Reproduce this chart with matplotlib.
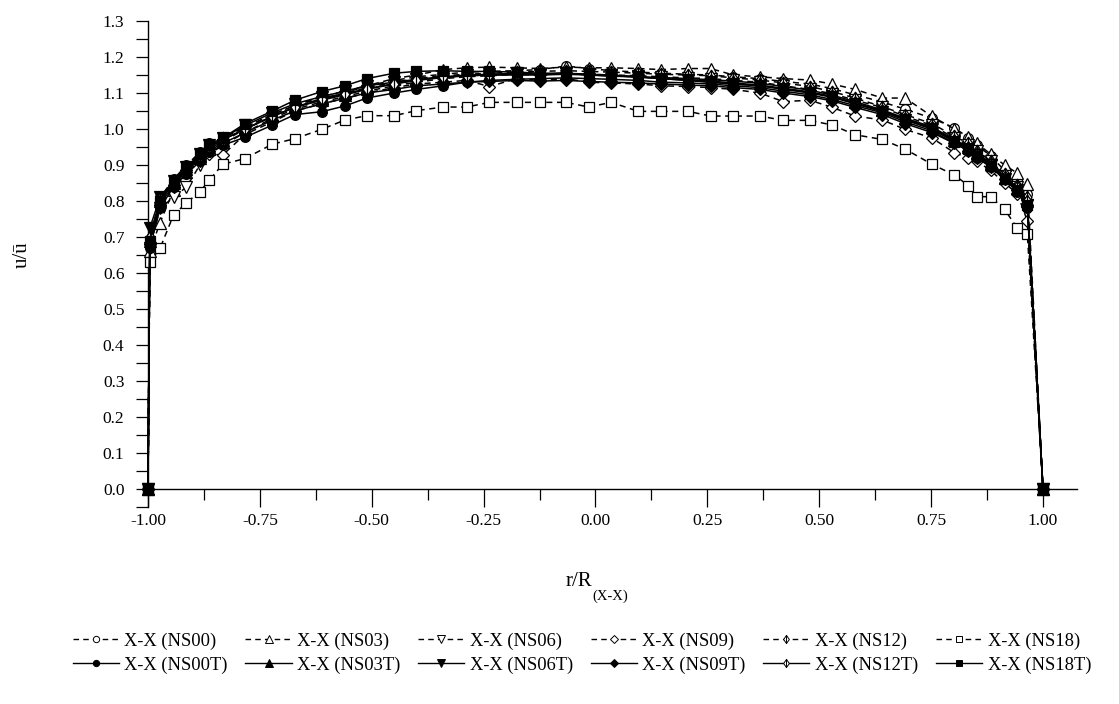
import numpy as np
import matplotlib
matplotlib.use("Agg")
import matplotlib.pyplot as plt
from matplotlib.path import Path
from matplotlib.lines import Line2D

plt.rcParams['font.family'] = ['Liberation Serif', 'DejaVu Serif']

# radial positions r/R (same stations for every run)
r = [-1.000, -0.996, -0.973, -0.943, -0.914, -0.884, -0.863, -0.833, -0.783, -0.722,
     -0.672, -0.612, -0.560, -0.511, -0.450, -0.400, -0.340, -0.288, -0.237, -0.176,
     -0.125, -0.066, -0.015, 0.035, 0.096, 0.147, 0.207, 0.257, 0.308, 0.367,
     0.420, 0.479, 0.529, 0.580, 0.641, 0.692, 0.752, 0.802, 0.833, 0.853,
     0.883, 0.914, 0.943, 0.965, 1.000]

ns00 = [0, 0.69, 0.81, 0.86, 0.90, 0.935, 0.96, 0.975, 1.005, 1.04, 1.065, 1.09, 1.105, 1.12, 1.135,
        1.145, 1.152, 1.158, 1.16, 1.162, 1.165, 1.175, 1.168, 1.162, 1.158, 1.155, 1.152, 1.15,
        1.145, 1.14, 1.132, 1.125, 1.112, 1.095, 1.075, 1.055, 1.03, 1.003, 0.975, 0.955, 0.925,
        0.885, 0.858, 0.82, 0]
ns03 = [0, 0.66, 0.74, 0.83, 0.88, 0.92, 0.945, 0.965, 1.0, 1.035, 1.06, 1.085, 1.10, 1.12, 1.14,
        1.15, 1.165, 1.17, 1.172, 1.17, 1.168, 1.172, 1.17, 1.17, 1.168, 1.165, 1.168, 1.168,
        1.15, 1.145, 1.14, 1.136, 1.125, 1.11, 1.086, 1.086, 1.035, 1.0, 0.979, 0.96, 0.93,
        0.90, 0.877, 0.847, 0]
ns06 = [0, 0.67, 0.78, 0.81, 0.839, 0.90, 0.93, 0.955, 0.99, 1.03, 1.055, 1.075, 1.09, 1.105, 1.12,
        1.13, 1.14, 1.145, 1.148, 1.152, 1.15, 1.155, 1.152, 1.15, 1.148, 1.145, 1.142, 1.14,
        1.135, 1.13, 1.12, 1.11, 1.098, 1.08, 1.06, 1.035, 1.01, 0.975, 0.955, 0.938, 0.91,
        0.87, 0.84, 0.79, 0]
ns09 = [0, 0.68, 0.79, 0.84, 0.88, 0.91, 0.93, 0.928, 0.985, 1.02, 1.05, 1.07, 1.085, 1.10, 1.115,
        1.125, 1.13, 1.135, 1.118, 1.14, 1.135, 1.14, 1.13, 1.128, 1.125, 1.12, 1.118, 1.115,
        1.11, 1.1, 1.076, 1.08, 1.06, 1.036, 1.025, 0.999, 0.975, 0.934, 0.92, 0.91, 0.885,
        0.85, 0.82, 0.745, 0]
ns12 = [0, 0.70, 0.80, 0.855, 0.895, 0.93, 0.955, 0.975, 1.005, 1.04, 1.065, 1.085, 1.10, 1.115, 1.13,
        1.14, 1.148, 1.152, 1.155, 1.158, 1.16, 1.162, 1.16, 1.158, 1.155, 1.152, 1.15, 1.148,
        1.142, 1.136, 1.128, 1.118, 1.104, 1.086, 1.062, 1.04, 1.015, 0.98, 0.96, 0.94, 0.91,
        0.875, 0.845, 0.81, 0]
ns18 = [0, 0.630, 0.669, 0.761, 0.795, 0.826, 0.858, 0.902, 0.918, 0.958, 0.973, 0.999, 1.025, 1.037,
        1.037, 1.051, 1.061, 1.061, 1.074, 1.074, 1.074, 1.074, 1.061, 1.074, 1.049, 1.049, 1.049,
        1.036, 1.036, 1.036, 1.024, 1.024, 1.011, 0.984, 0.971, 0.944, 0.902, 0.872, 0.843,
        0.812, 0.812, 0.777, 0.724, 0.708, 0]
ns00t = [0, 0.67, 0.78, 0.84, 0.875, 0.91, 0.935, 0.955, 0.977, 1.011, 1.04, 1.048, 1.064, 1.086, 1.10,
         1.11, 1.12, 1.13, 1.135, 1.138, 1.14, 1.142, 1.14, 1.138, 1.135, 1.13, 1.128, 1.125,
         1.12, 1.115, 1.105, 1.095, 1.082, 1.065, 1.045, 1.02, 0.995, 0.96, 0.94, 0.92, 0.895,
         0.86, 0.825, 0.78, 0]
ns03t = [0, 0.69, 0.80, 0.85, 0.89, 0.925, 0.95, 0.97, 1.0, 1.035, 1.06, 1.08, 1.095, 1.11, 1.125,
         1.135, 1.143, 1.148, 1.15, 1.15, 1.15, 1.152, 1.15, 1.148, 1.145, 1.143, 1.14, 1.137,
         1.133, 1.127, 1.118, 1.108, 1.094, 1.076, 1.053, 1.03, 1.006, 0.97, 0.95, 0.933, 0.905,
         0.865, 0.835, 0.80, 0]
ns06t = [0, 0.725, 0.81, 0.855, 0.895, 0.93, 0.955, 0.975, 1.01, 1.045, 1.07, 1.09, 1.105, 1.12, 1.13,
         1.138, 1.145, 1.15, 1.152, 1.155, 1.152, 1.155, 1.152, 1.15, 1.145, 1.14, 1.135, 1.13,
         1.125, 1.12, 1.11, 1.10, 1.088, 1.07, 1.048, 1.025, 1.0, 0.965, 0.945, 0.928, 0.9,
         0.862, 0.83, 0.79, 0]
ns09t = [0, 0.68, 0.79, 0.845, 0.885, 0.92, 0.94, 0.96, 0.99, 1.025, 1.05, 1.07, 1.085, 1.10, 1.11,
         1.12, 1.125, 1.13, 1.132, 1.135, 1.133, 1.135, 1.132, 1.13, 1.128, 1.125, 1.122, 1.12,
         1.115, 1.11, 1.10, 1.09, 1.078, 1.06, 1.04, 1.015, 0.99, 0.96, 0.94, 0.92, 0.895,
         0.86, 0.83, 0.79, 0]
ns12t = [0, 0.70, 0.805, 0.85, 0.89, 0.925, 0.95, 0.97, 1.0, 1.035, 1.06, 1.082, 1.098, 1.112, 1.126,
         1.136, 1.144, 1.148, 1.15, 1.152, 1.152, 1.155, 1.15, 1.147, 1.144, 1.14, 1.137, 1.133,
         1.128, 1.122, 1.113, 1.103, 1.09, 1.072, 1.05, 1.027, 1.003, 0.968, 0.948, 0.93, 0.902,
         0.868, 0.838, 0.80, 0]
ns18t = [0, 0.69, 0.80, 0.85, 0.89, 0.93, 0.955, 0.975, 1.015, 1.05, 1.08, 1.104, 1.12, 1.14, 1.155,
         1.16, 1.162, 1.16, 1.16, 1.158, 1.155, 1.155, 1.15, 1.148, 1.145, 1.14, 1.135, 1.13,
         1.125, 1.12, 1.112, 1.102, 1.09, 1.072, 1.05, 1.027, 1.0, 0.965, 0.945, 0.925, 0.898,
         0.86, 0.83, 0.79, 0]

labels = ["X-X (NS00)", "X-X (NS03)", "X-X (NS06)", "X-X (NS09)", "X-X (NS12)", "X-X (NS18)",
          "X-X (NS00T)", "X-X (NS03T)", "X-X (NS06T)", "X-X (NS09T)", "X-X (NS12T)", "X-X (NS18T)"]

# diamond with a vertical bar inside
diamond_bar = Path([(0, 1), (0.7, 0), (0, -1), (-0.7, 0), (0, 1), (0, 1), (0, -1)],
                   [Path.MOVETO, Path.LINETO, Path.LINETO, Path.LINETO, Path.CLOSEPOLY,
                    Path.MOVETO, Path.LINETO])

dash = (0, (4, 3))
styles = [
    (ns00, 'o', 'white', dash, 7),
    (ns03, '^', 'white', dash, 8),
    (ns06, 'v', 'white', dash, 8),
    (ns09, 'D', 'white', dash, 6.5),
    (ns12, diamond_bar, 'white', dash, 9),
    (ns18, 's', 'white', dash, 6.5),
    (ns00t, 'o', 'black', '-', 7),
    (ns03t, '^', 'black', '-', 8),
    (ns06t, 'v', 'black', '-', 8),
    (ns09t, 'D', 'black', '-', 6.5),
    (ns12t, diamond_bar, 'white', '-', 9),
    (ns18t, 's', 'black', '-', 6.5),
]

fig = plt.figure(figsize=(11.19, 7.04), dpi=100)
ax = fig.add_axes([148 / 1119, 1 - 507 / 704, (1077 - 148) / 1119, (507 - 21) / 704])

handles = []
for (vals, mk, fc, ls, ms), lab in zip(styles, labels):
    ax.plot(r, vals, color='black', lw=1.1, linestyle=ls, marker=mk, ms=ms,
            mfc=fc, mec='black', mew=0.9, clip_on=False, zorder=3)
    handles.append(Line2D([], [], color='black', lw=1.0, linestyle=ls, marker=mk,
                          ms=ms * 0.65, mfc=fc, mec='black', mew=0.7))

ax.set_xlim(-1.0, 1.076)
ax.set_ylim(-0.05, 1.3)
ax.spines['top'].set_visible(False)
ax.spines['right'].set_visible(False)
ax.spines['bottom'].set_position(('data', 0))
ax.spines['left'].set_linewidth(1.0)
ax.spines['bottom'].set_linewidth(1.0)

ax.set_xticks(np.arange(-1.0, 1.01, 0.25))
ax.set_xticks(np.arange(-0.875, 1.0, 0.25), minor=True)
ax.set_xticklabels([f"{v:.2f}" for v in np.arange(-1.0, 1.01, 0.25)])
ax.set_yticks(np.arange(0, 1.31, 0.1))
ax.set_yticks(np.arange(-0.05, 1.3, 0.1), minor=True)
ax.set_yticklabels([f"{v:.1f}" for v in np.arange(0, 1.31, 0.1)])
ax.tick_params(axis='x', which='major', direction='out', length=13, width=0.9,
               labelsize=12.5, pad=4)
ax.tick_params(axis='x', which='minor', direction='out', length=8, width=0.9)
ax.tick_params(axis='y', which='both', direction='out', length=9, width=0.9,
               labelsize=12.5, pad=8)

fig.text(22 / 1119, 1 - 255 / 704, "u/ū", rotation=90, ha='center', va='center', fontsize=15)
rr = fig.text(566 / 1119, 1 - 582 / 704, "r/R", ha='left', va='center', fontsize=15)
fig.canvas.draw()
ax.annotate("(X-X)", xy=(1.0, 0.1), xycoords=rr, ha='left', va='top', fontsize=10.5)

order = [0, 6, 1, 7, 2, 8, 3, 9, 4, 10, 5, 11]
fig.legend([handles[i] for i in order], [labels[i] for i in order], ncol=6,
           loc='center', bbox_to_anchor=(0.52, 1 - 653 / 704), frameon=False,
           fontsize=13.3, handlelength=2.5, handletextpad=0.3, columnspacing=0.95,
           labelspacing=0.35)

fig.savefig("out.png", dpi=100)
